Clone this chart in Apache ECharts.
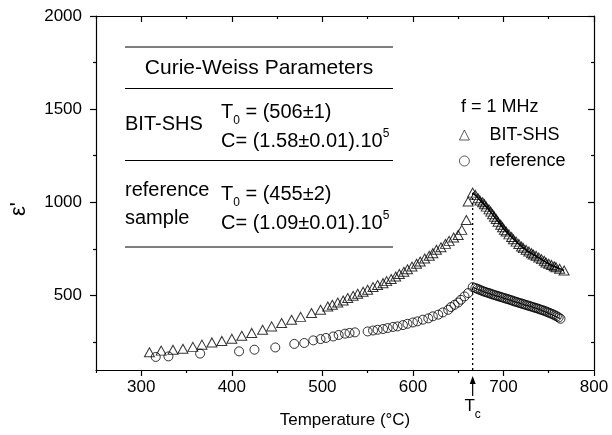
<!DOCTYPE html>
<html>
<head>
<meta charset="utf-8">
<script src="https://cdn.jsdelivr.net/npm/echarts@6/dist/echarts.min.js"></script>
<style>
  html, body { margin: 0; padding: 0; background: #fff; }
  #vis { width: 612px; height: 435px; }
</style>
</head>
<body>
<div id="vis"></div>
<script>
// BIT-SHS (triangles), temperature in °C and permittivity
const bitTemp = [309, 322, 335, 346, 357, 367, 378, 389, 400, 411, 422, 434, 444, 455, 466, 476,
  488, 498, 506, 511, 517, 523, 528, 534, 539, 545, 550, 556, 561, 567, 571, 576, 581, 585, 590,
  594, 599, 604, 608, 613, 618, 622, 626, 631, 636, 640, 645, 650, 654, 659, 661, 666,
  669, 672, 674, 677, 679, 681, 684, 686, 688, 690, 692, 694, 697, 699, 701, 703, 706, 709, 711,
  714, 717, 720, 722, 725, 728, 731, 733, 736, 739, 742, 745, 747, 750, 753, 756, 758, 762, 767];
const bitEps = [195, 204, 209, 214, 224, 236, 248, 256, 268, 284, 299, 316, 334, 352, 370, 385,
  406, 423, 441, 450, 462, 473, 486, 498, 509, 520, 531, 545, 556, 566, 577, 588, 602, 615, 627,
  641, 655, 670, 682, 698, 713, 727, 745, 759, 777, 793, 811, 825, 852, 905, 1004, 1052,
  1040, 1022, 1010, 1000, 990, 977, 962, 950, 936, 923, 910, 896, 880, 866, 852, 843, 828, 814, 802,
  789, 776, 763, 754, 745, 736, 727, 720, 713, 704, 695, 686, 677, 670, 664, 657, 652, 643, 634];

// reference sample (circles)
const refTemp = [316, 330, 365, 408, 425, 448, 469, 480, 490, 498, 504, 512, 518, 525, 530, 536,
  550, 556, 561, 567, 572, 578, 583, 589, 594, 600, 605, 611, 617, 622, 628, 633, 639, 642, 646,
  650, 653, 657, 661, 666,
  669, 671, 673, 675, 677, 679, 681, 683, 685, 687, 689, 691, 693, 695, 697, 699, 701, 703, 705,
  707, 709, 711, 713, 715, 717, 719, 721, 723, 725, 727, 729, 731, 733, 735, 737, 739, 741, 743,
  745, 747, 749, 751, 753, 755, 757, 759, 761, 763];
const refEps = [170, 173, 188, 200, 209, 221, 240, 245, 259, 266, 272, 280, 288, 295, 299, 302,
  307, 312, 316, 320, 325, 331, 334, 341, 348, 355, 361, 370, 377, 388, 397, 409, 423, 438, 450,
  462, 477, 495, 513, 545,
  540, 536, 532, 528, 524, 520, 517, 514, 511, 507, 504, 501, 498, 495, 492, 489, 486, 483, 480,
  477, 474, 470, 467, 464, 461, 458, 455, 452, 449, 446, 443, 440, 437, 434, 431, 428, 424, 421,
  418, 414, 410, 406, 402, 398, 393, 388, 382, 375];

// Curie-Weiss fit lines above Tc
const bitFitTemp = [666, 670, 675, 680, 690, 700, 710, 720, 730, 740, 750, 760, 767];
const bitFitEps = [1052, 1032, 1006, 982, 923, 860, 808, 763, 728, 700, 670, 648, 634];
const refFitTemp = [666, 680, 700, 720, 740, 763];
const refFitEps = [545, 517, 486, 455, 424, 375];

// Tc marker
const curieTemp = [666, 666];
const curieEps = [100, 1052];

// ticks
const xMajorTicks = [300, 400, 500, 600, 700, 800];
const xMinorTicks = [250, 350, 450, 550, 650, 750];
const yMajorTicks = [500, 1000, 1500, 2000];
const yMinorTicks = [250, 750, 1250, 1750];

const FONT = '"Liberation Sans", Arial, Helvetica, sans-serif';
const pairs = (xs, ys) => xs.map((x, i) => [x, ys[i]]);

const chart = echarts.init(document.getElementById('vis'));

function xAxisDef(position, ticks, len, inside, main) {
  return {
    type: 'value', position: position, min: 250, max: 800, interval: 50,
    name: main && position === 'bottom' ? 'Temperature (°C)' : '',
    nameLocation: 'middle', nameGap: 42,
    nameTextStyle: { color: '#000', fontSize: 17, fontFamily: FONT },
    axisLine: { show: main, onZero: false, lineStyle: { color: '#000', width: 1.2 } },
    axisTick: { show: true, inside: inside, length: len, customValues: ticks,
      lineStyle: { color: '#000', width: 1.2 } },
    axisLabel: { show: main && position === 'bottom', customValues: xMajorTicks, margin: 9,
      color: '#000', fontSize: 17, fontFamily: FONT,
      formatter: v => (v % 100 === 0 ? String(v) : '') },
    splitLine: { show: false }
  };
}

function yAxisDef(position, ticks, len, inside, main) {
  return {
    type: 'value', position: position, min: 100, max: 2000, interval: 50,
    axisLine: { show: main, onZero: false, lineStyle: { color: '#000', width: 1.2 } },
    axisTick: { show: true, inside: inside, length: len, customValues: ticks,
      lineStyle: { color: '#000', width: 1.2 } },
    axisLabel: { show: main && position === 'left', customValues: yMajorTicks, margin: 14,
      color: '#000', fontSize: 17, fontFamily: FONT,
      formatter: v => (v % 500 === 0 ? String(v) : '') },
    splitLine: { show: false }
  };
}

const hollow = { color: 'rgba(0,0,0,0)', borderColor: '#000', borderWidth: 1 };

chart.setOption({
  animation: false,
  backgroundColor: '#fff',
  grid: { left: 96, right: 18, top: 16, bottom: 65 },
  xAxis: [
    xAxisDef('bottom', xMajorTicks, 6, false, true),
    xAxisDef('bottom', xMinorTicks, 3, false, false),
    xAxisDef('top', xMajorTicks, 6, true, true),
    xAxisDef('top', xMinorTicks, 3, true, false)
  ],
  yAxis: [
    yAxisDef('left', yMajorTicks, 6, false, true),
    yAxisDef('left', yMinorTicks, 3, false, false),
    yAxisDef('right', yMajorTicks, 6, true, true),
    yAxisDef('right', yMinorTicks, 3, true, false)
  ],
  legend: {
    orient: 'vertical', left: 459, top: 125, padding: 0,
    itemWidth: 10, itemHeight: 10, itemGap: 6, selectedMode: false,
    data: ['BIT-SHS', 'reference'],
    itemStyle: { color: 'rgba(0,0,0,0)', borderColor: '#000', borderWidth: 0.8 },
    textStyle: { color: '#000', fontSize: 18, fontFamily: FONT, lineHeight: 20, padding: [0, 0, 0, 15] }
  },
  series: [
    {
      name: 'Tc', type: 'line', data: pairs(curieTemp, curieEps), showSymbol: false, silent: true,
      lineStyle: { color: '#000', width: 1.3, type: [2, 3] }, z: 1
    },
    {
      name: 'BIT-SHS fit', type: 'line', data: pairs(bitFitTemp, bitFitEps), showSymbol: false,
      smooth: true, lineStyle: { color: '#000', width: 1.5 }, z: 3
    },
    {
      name: 'reference fit', type: 'line', data: pairs(refFitTemp, refFitEps), showSymbol: false,
      smooth: true, lineStyle: { color: '#000', width: 1 }, z: 3
    },
    {
      name: 'BIT-SHS', type: 'scatter', symbol: 'triangle', symbolSize: [10, 9],
      data: pairs(bitTemp, bitEps), itemStyle: hollow, z: 2
    },
    {
      name: 'reference', type: 'scatter', symbol: 'circle', symbolSize: 9,
      data: pairs(refTemp, refEps), itemStyle: hollow, z: 2
    }
  ]
});

// annotations: parameters table, labels, Tc arrow
const tcX = chart.convertToPixel({ xAxisIndex: 0 }, curieTemp[0]);
const tableRows = [47, 88.5, 160.5, 247];
const txt = (x, y, text, size, align, extra) => ({
  type: 'text', x: x, y: y, z: 10,
  style: Object.assign({
    text: text, font: size + 'px ' + FONT, fill: '#000',
    align: align || 'left', verticalAlign: 'middle',
    textAlign: align || 'left', textVerticalAlign: 'middle'
  }, extra || {})
});
const subRich = { rich: { sub: { fontSize: 12, lineHeight: 14, verticalAlign: 'bottom' } }, lineHeight: 30 };
const supRich = { rich: { sup: { fontSize: 12, lineHeight: 14, verticalAlign: 'top' } }, lineHeight: 26 };

const graphics = tableRows.map(y => ({
  type: 'line', z: 10, shape: { x1: 125, y1: y, x2: 393, y2: y },
  style: { stroke: '#000', lineWidth: 1 }
}));
graphics.push(
  txt(259, 68, 'Curie-Weiss Parameters', 21, 'center'),
  txt(125, 124, 'BIT-SHS', 20),
  txt(221, 112, 'T{sub|0} = (506±1)', 20, 'left', subRich),
  txt(221, 141, 'C= (1.58±0.01).10{sup|5}', 20, 'left', supRich),
  txt(125, 190, 'reference', 20),
  txt(125, 218, 'sample', 20),
  txt(221, 194, 'T{sub|0} = (455±2)', 20, 'left', subRich),
  txt(221, 223, 'C= (1.09±0.01).10{sup|5}', 20, 'left', supRich),
  txt(461, 107, 'f = 1 MHz', 18),
  txt(tcX, 406, 'T{sub|c}', 17, 'center', subRich),
  {
    type: 'text', x: 19, y: 209, rotation: Math.PI / 2, z: 10,
    style: { text: "ε'", font: '22px ' + FONT, fill: '#000', align: 'center', verticalAlign: 'middle',
      textAlign: 'center', textVerticalAlign: 'middle' }
  },
  {
    type: 'line', z: 10, shape: { x1: tcX, y1: 396, x2: tcX, y2: 382 },
    style: { stroke: '#000', lineWidth: 1.2 }
  },
  {
    type: 'polygon', z: 10, shape: { points: [[tcX, 376], [tcX - 3, 384], [tcX + 3, 384]] },
    style: { fill: '#000' }
  }
);
chart.setOption({ graphic: graphics });
</script>
</body>
</html>
